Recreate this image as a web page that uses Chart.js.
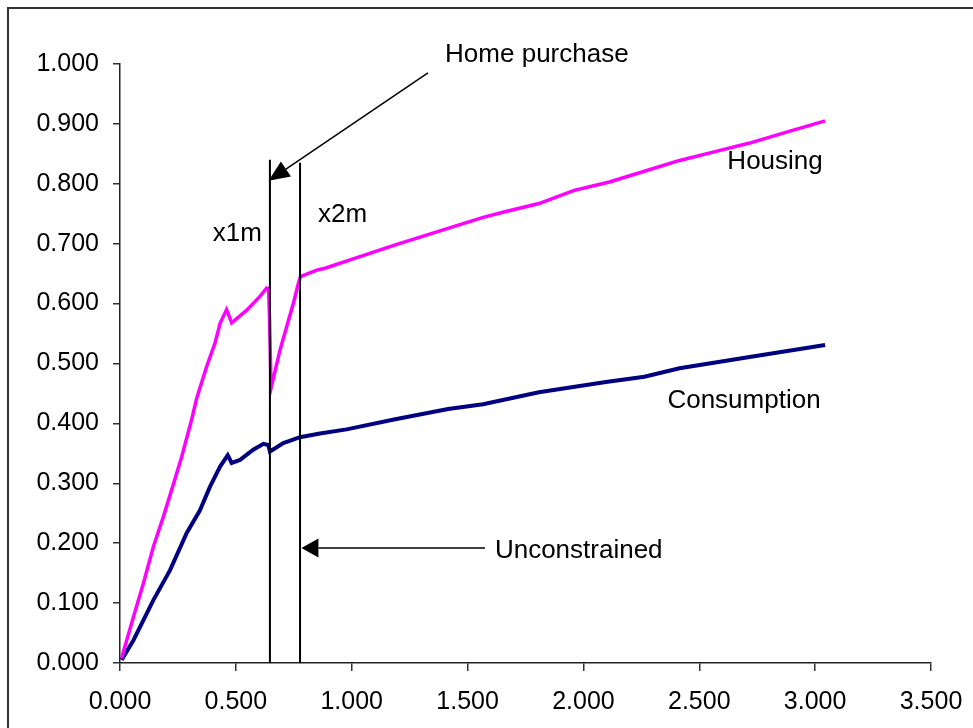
<!DOCTYPE html>
<html>
<head>
<meta charset="utf-8">
<script src="https://cdn.jsdelivr.net/npm/chart.js@4/dist/chart.umd.min.js"></script>
<style>
  html, body { margin: 0; padding: 0; background: #fff; }
  #wrap { position: relative; width: 973px; height: 728px; }
</style>
</head>
<body>
<div id="wrap"><canvas id="c" width="973" height="728"></canvas></div>
<script>
// Housing and consumption paths
const housingX = [0.007, 0.029, 0.058, 0.101, 0.144, 0.187, 0.223, 0.266, 0.309, 0.331, 0.374, 0.410, 0.432, 0.460, 0.482, 0.547, 0.604, 0.633, 0.641, 0.645, 0.652, 0.691, 0.719, 0.748, 0.770, 0.779, 0.849, 0.885, 0.993, 1.188, 1.567, 1.657, 1.808, 1.960, 2.112, 2.263, 2.415, 2.581, 2.717, 2.884, 3.043];
const housingY = [0.008, 0.038, 0.077, 0.133, 0.194, 0.244, 0.289, 0.344, 0.406, 0.442, 0.495, 0.534, 0.567, 0.590, 0.568, 0.589, 0.612, 0.626, 0.625, 0.580, 0.459, 0.523, 0.561, 0.600, 0.634, 0.645, 0.656, 0.659, 0.673, 0.698, 0.744, 0.753, 0.767, 0.789, 0.803, 0.821, 0.839, 0.855, 0.868, 0.887, 0.905];

const consumptionX = [0.007, 0.058, 0.144, 0.216, 0.288, 0.345, 0.388, 0.432, 0.465, 0.482, 0.518, 0.575, 0.619, 0.640, 0.647, 0.705, 0.777, 0.863, 0.978, 1.188, 1.416, 1.567, 1.808, 2.097, 2.263, 2.415, 2.717, 3.043];
const consumptionY = [0.005, 0.038, 0.105, 0.155, 0.217, 0.255, 0.294, 0.328, 0.347, 0.334, 0.339, 0.356, 0.366, 0.364, 0.353, 0.367, 0.377, 0.383, 0.390, 0.407, 0.424, 0.432, 0.452, 0.469, 0.478, 0.492, 0.511, 0.531];

// Axis ranges and ticks
const xTicks = [0, 0.5, 1.0, 1.5, 2.0, 2.5, 3.0, 3.5];
const yTicks = [0, 0.1, 0.2, 0.3, 0.4, 0.5, 0.6, 0.7, 0.8, 0.9, 1.0];

// Threshold markers (x value, top of line)
const markerNames = ['x1m', 'x2m'];
const markerX = [0.647, 0.777];
const markerTop = [0.840, 0.835];

// Series names and their label anchors
const seriesNames = ['Housing', 'Consumption'];
const seriesLabelX = [2.827, 2.693];
const seriesLabelY = [0.836, 0.438];

const FONT = '"Liberation Sans", Arial, sans-serif';

function toPoints(xs, ys) { return xs.map((x, i) => ({ x: x, y: ys[i] })); }

// Frame around the figure
const framePlugin = {
  id: 'frame',
  afterDraw(chart) {
    const ctx = chart.ctx;
    ctx.save();
    ctx.strokeStyle = '#333';
    ctx.lineWidth = 2;
    ctx.beginPath();
    ctx.moveTo(8, chart.height);
    ctx.lineTo(8, 8);
    ctx.lineTo(chart.width, 8);
    ctx.stroke();
    ctx.restore();
  }
};

function arrow(ctx, x0, y0, x1, y1, headLen, headHalf) {
  const dx = x1 - x0, dy = y1 - y0;
  const len = Math.hypot(dx, dy);
  const ux = dx / len, uy = dy / len;
  const bx = x1 - ux * headLen, by = y1 - uy * headLen;
  ctx.beginPath();
  ctx.moveTo(x0, y0);
  ctx.lineTo(bx, by);
  ctx.stroke();
  ctx.beginPath();
  ctx.moveTo(x1, y1);
  ctx.lineTo(bx - uy * headHalf, by + ux * headHalf);
  ctx.lineTo(bx + uy * headHalf, by - ux * headHalf);
  ctx.closePath();
  ctx.fill();
}

// Markers, arrows and text notes, positioned in data units
const notesPlugin = {
  id: 'notes',
  afterDatasetsDraw(chart) {
    const ctx = chart.ctx;
    const xs = chart.scales.x, ys = chart.scales.y;
    const px = v => xs.getPixelForValue(v);
    const py = v => ys.getPixelForValue(v);
    ctx.save();
    ctx.strokeStyle = '#000';
    ctx.fillStyle = '#000';

    // vertical threshold lines
    ctx.lineWidth = 2;
    markerX.forEach((mx, i) => {
      ctx.beginPath();
      ctx.moveTo(px(mx), py(0));
      ctx.lineTo(px(mx), py(markerTop[i]));
      ctx.stroke();
    });

    // arrows
    ctx.lineWidth = 1.5;
    arrow(ctx, px(1.329), py(0.985), px(0.641), py(0.805), 21, 9);
    arrow(ctx, px(1.575), py(0.192), px(0.783), py(0.192), 17, 9.5);

    // text
    ctx.font = '26px ' + FONT;
    ctx.textBaseline = 'middle';
    ctx.textAlign = 'left';
    ctx.fillText('Home purchase', px(1.403), py(1.015));
    ctx.fillText('Unconstrained', px(1.618), py(0.188));
    ctx.textAlign = 'right';
    ctx.fillText(markerNames[0], px(markerX[0]) - 8, py(0.716));
    ctx.textAlign = 'left';
    ctx.fillText(markerNames[1], px(markerX[1]) + 18, py(0.748));
    ctx.textAlign = 'center';
    seriesNames.forEach((n, i) => ctx.fillText(n, px(seriesLabelX[i]), py(seriesLabelY[i])));
    ctx.restore();
  }
};

new Chart(document.getElementById('c'), {
  type: 'line',
  data: {
    datasets: [
      {
        label: seriesNames[0],
        data: toPoints(housingX, housingY),
        borderColor: '#FF00FF',
        borderWidth: 3.5,
        pointRadius: 0,
        tension: 0,
        fill: false
      },
      {
        label: seriesNames[1],
        data: toPoints(consumptionX, consumptionY),
        borderColor: '#000080',
        borderWidth: 4,
        pointRadius: 0,
        tension: 0,
        fill: false
      }
    ]
  },
  options: {
    responsive: false,
    animation: false,
    layout: { padding: { top: 64, right: 42, bottom: 0, left: 0 } },
    plugins: {
      legend: { display: false },
      tooltip: { enabled: false }
    },
    scales: {
      x: {
        type: 'linear',
        min: xTicks[0],
        max: xTicks[xTicks.length - 1],
        afterBuildTicks: s => { s.ticks = xTicks.map(v => ({ value: v })); },
        afterFit: s => { s.height = 65; s.paddingLeft = 0; s.paddingRight = 0; },
        ticks: {
          color: '#000',
          font: { family: FONT, size: 25 },
          padding: 16,
          maxRotation: 0,
          autoSkip: false,
          callback: v => Number(v).toFixed(3)
        },
        grid: { drawOnChartArea: false, drawTicks: true, tickLength: 8, color: '#333', lineWidth: 1.5 },
        border: { display: true, color: '#222', width: 1.5 }
      },
      y: {
        type: 'linear',
        min: yTicks[0],
        max: yTicks[yTicks.length - 1],
        afterBuildTicks: s => { s.ticks = yTicks.map(v => ({ value: v })); },
        afterFit: s => { s.width = 120; s.paddingTop = 0; s.paddingBottom = 0; },
        ticks: {
          color: '#000',
          font: { family: FONT, size: 25 },
          padding: 14,
          autoSkip: false,
          callback: v => Number(v).toFixed(3)
        },
        grid: { drawOnChartArea: false, drawTicks: true, tickLength: 7, color: '#333', lineWidth: 1.5 },
        border: { display: true, color: '#222', width: 1.5 }
      }
    }
  },
  plugins: [framePlugin, notesPlugin]
});
</script>
</body>
</html>
